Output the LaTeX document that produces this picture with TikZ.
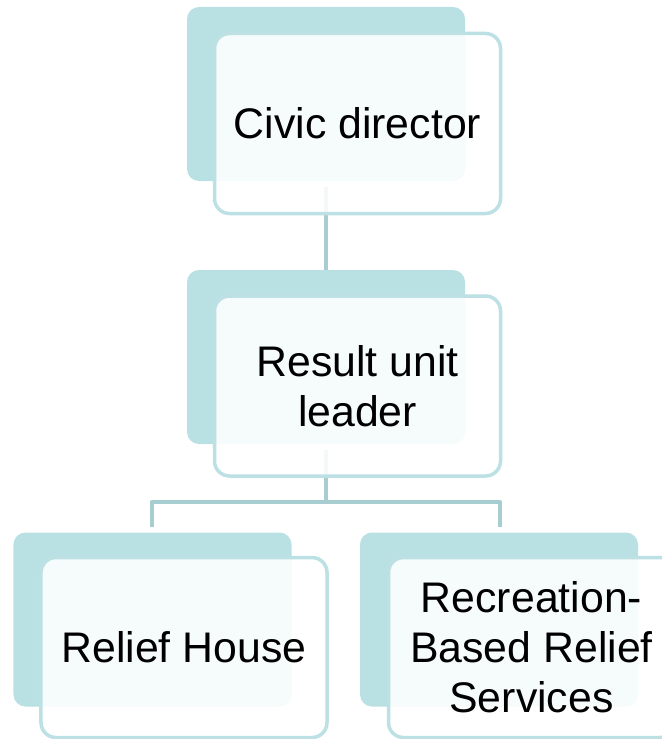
\documentclass[tikz,border=0pt]{standalone}
\usepackage{fontspec}
\setmainfont{Liberation Sans}
\definecolor{backteal}{RGB}{185,224,227}
\definecolor{edgeteal}{RGB}{189,224,228}
\definecolor{linkteal}{RGB}{168,205,208}
\begin{document}
\begin{tikzpicture}[x=1bp,y=-1bp,
  backbox/.style={draw=none,fill=backteal,rounded corners=12bp,minimum width=278bp,minimum height=174bp,inner sep=0pt},
  frontbox/.style={draw=edgeteal,line width=3.5bp,fill=white,fill opacity=0.88,text opacity=1,rounded corners=15bp,minimum width=286bp,minimum height=180bp,inner sep=0pt,align=center,font=\fontsize{42.8bp}{50bp}\selectfont},
  link/.style={draw=linkteal,line width=4bp,line join=round}]
\fill[white] (0,0) rectangle (662,739);
\useasboundingbox (0,0) rectangle (662,739);
\clip (0,0) rectangle (662,739);
% back boxes
\node[backbox] (b1) at (326,94) {};
\node[backbox] (b2) at (326,357) {};
\node[backbox] (b3) at (152.5,619.5) {};
\node[backbox] (b4) at (499,619.5) {};
% connectors
\coordinate (c1) at ([yshift=-6bp]b1.south);
\coordinate (c2) at ([yshift=-6bp]b2.south);
\coordinate (h) at (326,502);
\coordinate (hl) at (152,502);
\coordinate (hr) at (500,502);
\coordinate (t3) at (152,527);
\coordinate (t4) at (500,527);
\draw[link] (c1) -- (b2.north);
\draw[link] (c2) -- (h);
\draw[link] (t3) -- (hl) -- (hr) -- (t4);
% front boxes
\node[frontbox] (f1) at (357.5,123.5) {Civic director};
\node[frontbox] (f2) at (357.5,386) {Result unit\\leader};
\node[frontbox] (f3) at (184,647.5) {Relief House};
\node[frontbox] (f4) at (531.5,647.5) {Recreation-\\Based Relief\\Services};
\end{tikzpicture}
\end{document}
